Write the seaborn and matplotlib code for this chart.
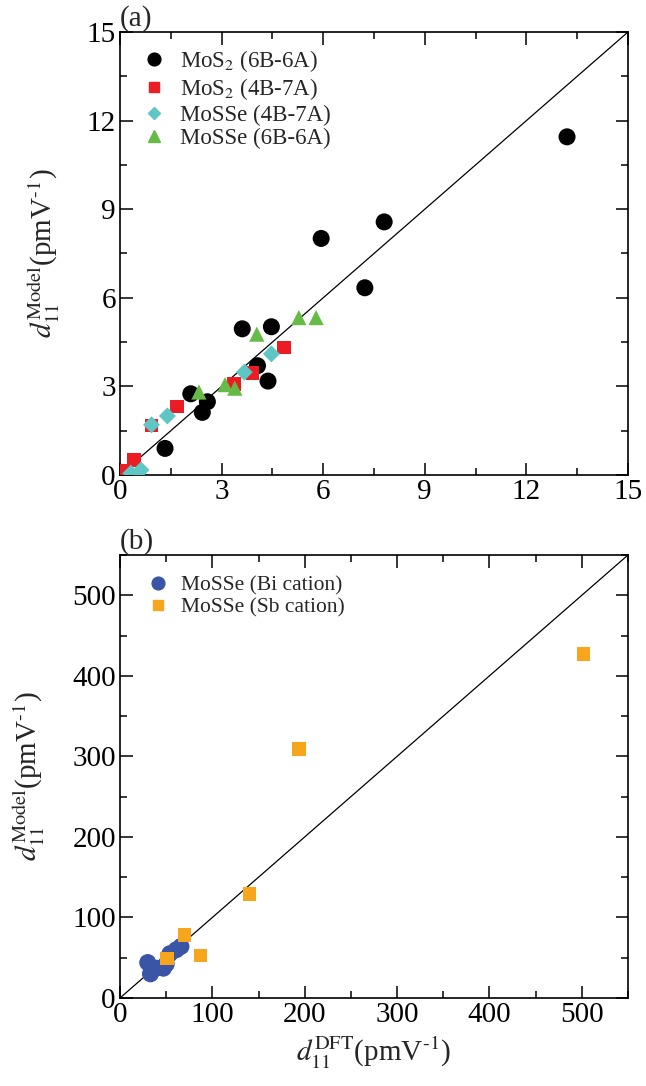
import numpy as np
import pandas as pd
import seaborn as sns
import matplotlib.pyplot as plt
from matplotlib.ticker import MultipleLocator
from matplotlib.lines import Line2D

sns.set_theme(style="ticks")
plt.rcParams['font.family'] = ['Liberation Serif', 'DejaVu Serif']
plt.rcParams['mathtext.fontset'] = 'stix'

# panel (a)
mos2_66_x = [1.33, 2.09, 2.43, 2.58, 3.61, 4.47, 4.06, 4.37, 7.23, 5.94, 7.80, 13.2]
mos2_66_y = [0.90, 2.75, 2.12, 2.48, 4.95, 5.02, 3.70, 3.18, 6.34, 8.01, 8.57, 11.45]
mos2_47_x = [0.10, 0.42, 0.93, 1.69, 3.37, 3.91, 4.85]
mos2_47_y = [0.15, 0.50, 1.68, 2.32, 3.09, 3.45, 4.32]
mosse_47_x = [0.32, 0.62, 0.93, 1.40, 3.67, 4.47]
mosse_47_y = [0.06, 0.17, 1.70, 2.00, 3.48, 4.10]
mosse_66_x = [2.33, 3.10, 3.39, 4.04, 5.28, 5.79]
mosse_66_y = [2.81, 3.06, 2.94, 4.77, 5.33, 5.33]

# panel (b)
bi_x = [30, 33, 39, 47, 50, 54, 61, 66]
bi_y = [44, 30, 37, 37, 42, 55, 60, 64]
sb_x = [51, 70, 87, 140, 194, 502]
sb_y = [49, 78, 53, 129, 309, 427]

seriesA = [
    ("MoS$_2$ (6B-6A)", mos2_66_x, mos2_66_y, "black", "o", 150),
    ("MoS$_2$ (4B-7A)", mos2_47_x, mos2_47_y, "#ec1c24", "s", 95),
    ("MoSSe (4B-7A)", mosse_47_x, mosse_47_y, "#5ec6c4", "D", 75),
    ("MoSSe (6B-6A)", mosse_66_x, mosse_66_y, "#66bb46", "^", 120),
]
seriesB = [
    ("MoSSe (Bi cation)", bi_x, bi_y, "#3a55a5", "o", 150),
    ("MoSSe (Sb cation)", sb_x, sb_y, "#f8a51e", "s", 95),
]

fig = plt.figure(figsize=(6.46, 10.86), dpi=100)
axA = fig.add_axes([120 / 646, 1 - 475 / 1086, 508 / 646, 443 / 1086])
axB = fig.add_axes([120 / 646, 1 - 998 / 1086, 508 / 646, 443 / 1086])

ylab = r"$d_{11}^{\rm Model}$(pmV$^{\rm \text{-}1}$)"
xlab = r"$d_{11}^{\rm DFT}$(pmV$^{\rm \text{-}1}$)"


def draw(ax, series, lim, major, minor, legsize, legpad):
    ax.plot([0, lim], [0, lim], color="black", lw=0.9, zorder=1)
    handles = []
    for label, xs, ys, col, mk, s in series:
        df = pd.DataFrame({"x": xs, "y": ys})
        sns.scatterplot(data=df, x="x", y="y", ax=ax, color=col, marker=mk, s=s,
                        edgecolor="none", linewidth=0, zorder=3)
        handles.append(Line2D([], [], ls="none", marker=mk, color=col,
                              markersize=np.sqrt(s) * 0.75, label=label))
    ax.set_xlim(0, lim)
    ax.set_ylim(0, lim)
    ax.xaxis.set_major_locator(MultipleLocator(major))
    ax.yaxis.set_major_locator(MultipleLocator(major))
    ax.xaxis.set_minor_locator(MultipleLocator(minor))
    ax.yaxis.set_minor_locator(MultipleLocator(minor))
    ax.tick_params(which="both", direction="in", top=True, right=True,
                   labelsize=21, width=1.1, colors="black")
    ax.tick_params(which="major", length=9, pad=3)
    ax.tick_params(which="minor", length=5)
    for sp in ax.spines.values():
        sp.set_linewidth(1.2)
        sp.set_color("black")
    ax.set_ylabel(ylab, fontsize=21, labelpad=18)
    ax.set_xlabel("")
    ax.legend(handles=handles, loc="upper left", frameon=False, fontsize=legsize,
              handletextpad=0.3, labelspacing=0.1, borderaxespad=legpad,
              handlelength=1.6, borderpad=0.5)


draw(axA, seriesA, 15, 3, 1.5, 16.5, 0.2)
draw(axB, seriesB, 550, 100, 50, 15.5, 0.45)
axB.set_xlabel(xlab, fontsize=21, labelpad=5)

axA.text(0.0, 1.0, "(a)", transform=axA.transAxes, fontsize=21, ha="left", va="bottom")
axB.text(0.0, 1.0, "(b)", transform=axB.transAxes, fontsize=21, ha="left", va="bottom")

fig.savefig("out.png", dpi=100)
